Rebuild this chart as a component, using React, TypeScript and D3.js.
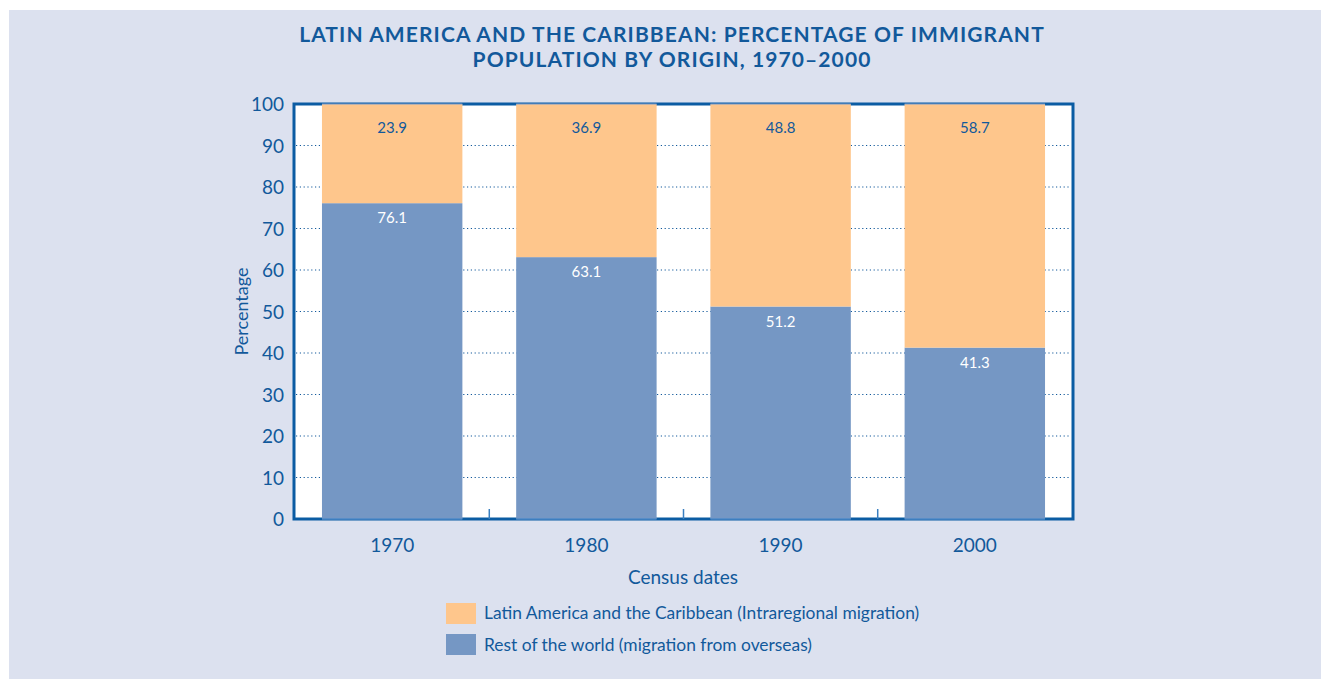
import React from 'react';
import { scaleBand, scaleLinear, range } from 'd3';

const years = ['1970', '1980', '1990', '2000'];
const restOfWorld = [76.1, 63.1, 51.2, 41.3];
const intraregional = [23.9, 36.9, 48.8, 58.7];
const yTicks = [0, 10, 20, 30, 40, 50, 60, 70, 80, 90, 100];
const titleLines = [
  'LATIN AMERICA AND THE CARIBBEAN: PERCENTAGE OF IMMIGRANT',
  'POPULATION BY ORIGIN, 1970–2000',
];
const legendLabels = [
  'Latin America and the Caribbean (Intraregional migration)',
  'Rest of the world (migration from overseas)',
];

const W = 1321;
const H = 679;
const ink = '#12599b';
const frame = '#0b5ca3';
const orange = '#fec68c';
const blue = '#7597c4';
const font = 'Lato, "Open Sans", sans-serif';

export default function App() {
  const margin = { top: 104, right: 248, bottom: 160, left: 294 };
  const x = scaleBand<string>()
    .domain(years)
    .range([margin.left, W - margin.right])
    .paddingInner(0.277)
    .paddingOuter(0.144);
  const y = scaleLinear().domain([0, 100]).range([H - margin.bottom, margin.top]);

  const x0 = margin.left;
  const x1 = W - margin.right;
  const gap = x.step() - x.bandwidth();
  const dividers = range(1, years.length).map(i => x(years[i])! - gap / 2);

  return (
    <div style={{ position: 'absolute', left: 0, top: 0 }}>
      <svg width={W} height={H} style={{ display: 'block', fontFamily: font }}>
        <rect x={0} y={0} width={W} height={H} fill="#ffffff" />
        <rect x={9} y={10} width={W - 9} height={H - 10} fill="#dce1ef" />

        {titleLines.map((t, i) => (
          <text key={t} x={672} y={42 + i * 25} textAnchor="middle" fontSize={21}
            fontWeight={700} letterSpacing={1.1} fill={ink}>{t}</text>
        ))}

        {/* plot area */}
        <rect x={x0} y={y(100)} width={x1 - x0} height={y(0) - y(100)} fill="#fff"
          stroke={frame} strokeWidth={3} />

        {yTicks.filter(d => d > 0 && d < 100).map(d => (
          <line key={d} x1={x0 + 2} x2={x1 - 2} y1={y(d)} y2={y(d)} stroke={ink}
            strokeWidth={1.2} strokeDasharray="1.2 2.6" />
        ))}

        {dividers.map((d, i) => (
          <line key={i} x1={d} x2={d} y1={y(0)} y2={y(0) - 10} stroke="#3a7fc0" strokeWidth={1.5} />
        ))}

        {years.map((yr, i) => {
          const bx = x(yr)!;
          const bw = x.bandwidth();
          const cx = bx + bw / 2;
          const bTop = y(restOfWorld[i]);
          return (
            <g key={yr}>
              <rect x={bx} y={bTop} width={bw} height={y(0) - bTop} fill={blue} />
              <rect x={bx} y={y(100)} width={bw} height={bTop - y(100)} fill={orange} />
              <line x1={bx} x2={bx + bw} y1={y(100)} y2={y(100)} stroke="#7a9ccc" strokeWidth={1} />
              <line x1={bx} x2={bx + bw} y1={y(0)} y2={y(0)} stroke="#4f8ac8" strokeWidth={1.5} />
              <text x={cx} y={y(100) + 29} textAnchor="middle" fontSize={15} fill={ink}>
                {intraregional[i].toFixed(1)}
              </text>
              <text x={cx} y={bTop + 20} textAnchor="middle" fontSize={15} fill="#fff">
                {restOfWorld[i].toFixed(1)}
              </text>
              <text x={cx} y={y(0) + 33} textAnchor="middle" fontSize={19} fill={ink}>{yr}</text>
            </g>
          );
        })}

        {yTicks.map(d => (
          <text key={d} x={284} y={y(d) + 7} textAnchor="end" fontSize={19} fill={ink}>{d}</text>
        ))}

        <text transform={`translate(248, ${(y(0) + y(100)) / 2}) rotate(-90)`} textAnchor="middle"
          fontSize={18} fill={ink}>Percentage</text>
        <text x={683} y={584} textAnchor="middle" fontSize={19} fill={ink}>Census dates</text>

        {legendLabels.map((l, i) => (
          <g key={l}>
            <rect x={446} y={603 + i * 31} width={30} height={21} fill={i === 0 ? orange : blue} />
            <text x={484} y={619 + i * 32} fontSize={17.4} fill={ink}>{l}</text>
          </g>
        ))}
      </svg>
    </div>
  );
}
